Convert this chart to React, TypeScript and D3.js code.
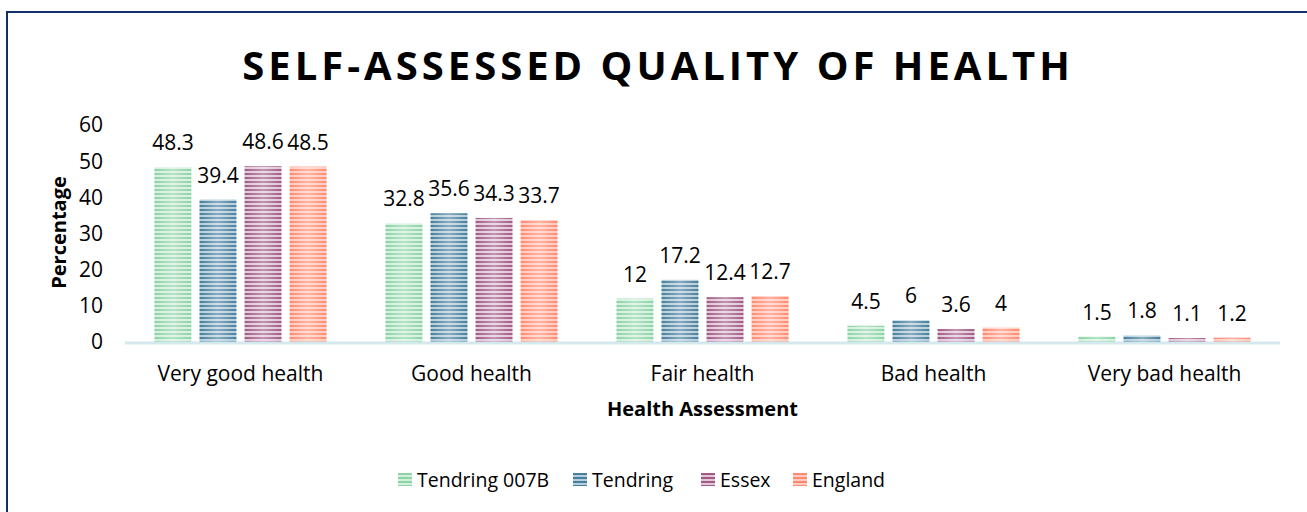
import React, { useRef, useLayoutEffect } from 'react';
import * as d3 from 'd3';

const categories = ['Very good health', 'Good health', 'Fair health', 'Bad health', 'Very bad health'];
const seriesNames = ['Tendring 007B', 'Tendring', 'Essex', 'England'];
const tendring007B = [48.3, 32.8, 12, 4.5, 1.5];
const tendring = [39.4, 35.6, 17.2, 6, 1.8];
const essex = [48.6, 34.3, 12.4, 3.6, 1.1];
const england = [48.5, 33.7, 12.7, 4, 1.2];
const yTicks = [0, 10, 20, 30, 40, 50, 60];

const seriesValues = [tendring007B, tendring, essex, england];
const darkColors = ['#8dd3a8', '#497e9c', '#a15b87', '#ff8a72'];
const lightColors = ['#d2f0dc', '#b3cedc', '#e2c6d6', '#ffcbbe'];

const FONT = '"Open Sans", "DejaVu Sans", sans-serif';

const QualityChart = () => {
    const ref = useRef<SVGSVGElement>(null);

    useLayoutEffect(() => {
        const svg = d3.select(ref.current);
        svg.selectAll('*').remove();
        const W = 1307;
        const H = 512;
        const margin = { top: 125, right: 27, bottom: 170, left: 125 };
        const width = W - margin.left - margin.right;
        const height = 342 - margin.top;

        svg.attr('width', W).attr('height', H);

        // stripe patterns + sheen gradient
        const defs = svg.append('defs');
        const sheen = defs.append('linearGradient')
            .attr('id', 'sheen').attr('x1', '0').attr('x2', '1').attr('y1', '0').attr('y2', '0');
        sheen.append('stop').attr('offset', '0').attr('stop-color', '#fff').attr('stop-opacity', 0);
        sheen.append('stop').attr('offset', '0.5').attr('stop-color', '#fff').attr('stop-opacity', 0.35);
        sheen.append('stop').attr('offset', '1').attr('stop-color', '#fff').attr('stop-opacity', 0);

        seriesNames.forEach((_, i) => {
            const p = defs.append('pattern')
                .attr('id', 'stripe' + i)
                .attr('patternUnits', 'userSpaceOnUse')
                .attr('width', 8).attr('height', 4);
            p.append('rect').attr('width', 8).attr('height', 4).attr('fill', darkColors[i]);
            p.append('rect').attr('y', 2).attr('width', 8).attr('height', 2).attr('fill', lightColors[i]);
        });

        // border
        svg.append('rect')
            .attr('x', 7).attr('y', 12)
            .attr('width', W + 10).attr('height', H + 10)
            .attr('fill', 'none')
            .attr('stroke', '#112f6b')
            .attr('stroke-width', 2);

        // title
        svg.append('text')
            .attr('x', 658).attr('y', 80)
            .attr('text-anchor', 'middle')
            .style('font-family', FONT)
            .style('font-weight', 'bold')
            .style('font-size', '40px')
            .style('letter-spacing', '4px')
            .text('SELF-ASSESSED QUALITY OF HEALTH');

        const g = svg.append('g')
            .attr('transform', 'translate(' + margin.left + ',' + margin.top + ')');

        const x0 = d3.scaleBand()
            .domain(categories)
            .range([0, width])
            .paddingInner(0.255)
            .paddingOuter(0.1275);

        const x1 = d3.scaleBand()
            .domain(seriesNames)
            .range([0, x0.bandwidth()])
            .paddingInner(0.18);

        const y = d3.scaleLinear()
            .domain([0, 60])
            .range([height, 0]);

        // y tick labels
        g.append('g')
            .selectAll('text')
            .data(yTicks)
            .enter().append('text')
            .attr('x', -22)
            .attr('y', d => y(d))
            .attr('dy', '0.35em')
            .attr('text-anchor', 'end')
            .style('font-family', FONT)
            .style('font-size', '21px')
            .text(d => d);

        // bars
        const groups = g.append('g')
            .selectAll('g')
            .data(categories)
            .enter().append('g')
            .attr('transform', d => 'translate(' + x0(d) + ',0)');

        const cells = groups.selectAll('g')
            .data((c, ci) => seriesNames.map((s, si) => ({ s, si, v: seriesValues[si][ci] })))
            .enter().append('g');

        cells.append('rect')
            .attr('x', d => x1(d.s))
            .attr('y', d => y(d.v))
            .attr('width', x1.bandwidth())
            .attr('height', d => y(0) - y(d.v))
            .attr('fill', d => 'url(#stripe' + d.si + ')');

        cells.append('rect')
            .attr('x', d => x1(d.s))
            .attr('y', d => y(d.v))
            .attr('width', x1.bandwidth())
            .attr('height', d => y(0) - y(d.v))
            .attr('fill', 'url(#sheen)');

        cells.append('text')
            .attr('x', d => x1(d.s) + x1.bandwidth() / 2)
            .attr('y', d => y(d.v) - 17)
            .attr('text-anchor', 'middle')
            .style('font-family', FONT)
            .style('font-size', '21px')
            .text(d => d.v);

        // x axis line
        g.append('line')
            .attr('x1', 0).attr('x2', width)
            .attr('y1', y(0) + 1).attr('y2', y(0) + 1)
            .attr('stroke', '#d5e8ee')
            .attr('stroke-width', 3);

        // category labels
        g.append('g')
            .selectAll('text')
            .data(categories)
            .enter().append('text')
            .attr('x', d => x0(d) + x0.bandwidth() / 2)
            .attr('y', height + 39)
            .attr('text-anchor', 'middle')
            .style('font-family', FONT)
            .style('font-size', '21px')
            .text(d => d);

        // axis titles
        g.append('text')
            .attr('x', width / 2)
            .attr('y', height + 74)
            .attr('text-anchor', 'middle')
            .style('font-family', FONT)
            .style('font-weight', 'bold')
            .style('font-size', '20px')
            .text('Health Assessment');

        g.append('text')
            .attr('transform', 'translate(' + (-59) + ',' + (height / 2 - 1) + ') rotate(-90)')
            .attr('text-anchor', 'middle')
            .style('font-family', FONT)
            .style('font-weight', 'bold')
            .style('font-size', '20px')
            .text('Percentage');

        // legend
        const legendX = [398, 573, 701, 793];
        const legend = svg.append('g')
            .selectAll('g')
            .data(seriesNames)
            .enter().append('g')
            .attr('transform', (d, i) => 'translate(' + legendX[i] + ',473)');

        legend.append('rect')
            .attr('width', 14).attr('height', 13)
            .attr('fill', (d, i) => 'url(#stripe' + i + ')');

        legend.append('text')
            .attr('x', 19).attr('y', 14)
            .style('font-family', FONT)
            .style('font-size', '19.5px')
            .text(d => d);
    }, []);

    return <svg ref={ref} style={{ display: 'block' }}></svg>;
};

export default function App() {
    return (
        <div style={{ position: 'absolute', left: 0, top: 0, width: 1307, height: 512, overflow: 'hidden', background: '#fff' }}>
            <QualityChart />
        </div>
    );
}
